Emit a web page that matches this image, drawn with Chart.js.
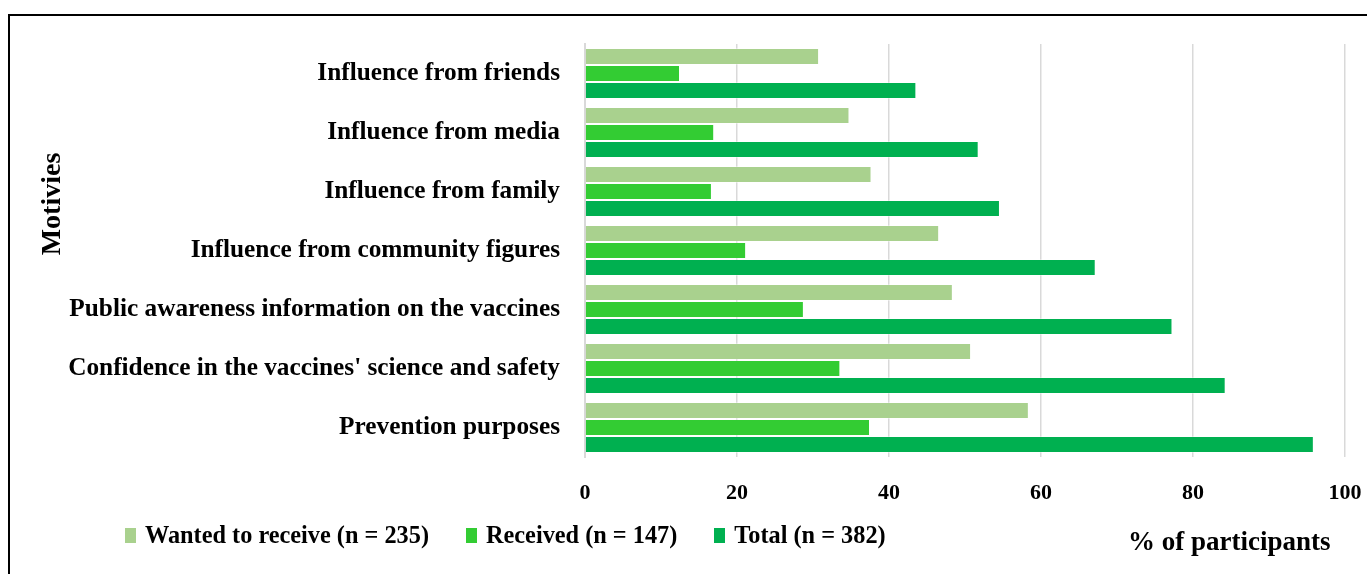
<!DOCTYPE html>
<html>
<head>
<meta charset="utf-8">
<script src="https://cdn.jsdelivr.net/npm/chart.js@4"></script>
<style>
  html, body { margin: 0; padding: 0; background: #fff; }
  #wrap { position: relative; width: 1367px; height: 574px; overflow: hidden; }
  #frame { position: absolute; left: 8px; top: 14px; right: -4px; bottom: -4px; border-top: 2px solid #000; border-left: 2px solid #000; pointer-events: none; }
  #legend { position: absolute; left: 125px; top: 521px; display: flex; font: bold 24.3px "Liberation Serif", serif; color: #000; }
  #legend .item { display: flex; align-items: center; margin-right: 37px; }
  #legend .box { width: 11px; height: 15px; margin-right: 9px; }
  #xtitle { position: absolute; left: 1128px; top: 526px; font: bold 27px "Liberation Serif", serif; color: #000; }
  #ytitle { position: absolute; left: 51px; top: 204px; transform: translate(-50%, -50%) rotate(-90deg); white-space: nowrap; font: bold 28px "Liberation Serif", serif; color: #000; }
</style>
</head>
<body>
<div id="wrap">
  <canvas id="chart" width="1367" height="574"></canvas>
  <div id="frame"></div>
  <div id="ytitle">Motivies</div>
  <div id="legend"></div>
  <div id="xtitle">% of participants</div>
</div>
<script>
const categories = [
  'Influence from friends',
  'Influence from media',
  'Influence from family',
  'Influence from community figures',
  'Public awareness information on the vaccines',
  "Confidence in the vaccines' science and safety",
  'Prevention purposes'
];
const seriesNames = ['Wanted to receive (n = 235)', 'Received (n = 147)', 'Total (n = 382)'];
const wanted = [30.8, 34.8, 37.7, 46.6, 48.4, 50.8, 58.4];
const received = [12.5, 17.0, 16.7, 21.2, 28.8, 33.6, 37.5];
const total = [43.6, 51.8, 54.6, 67.2, 77.3, 84.3, 95.9];
const colors = ['#A9D18E', '#33CC33', '#00B050'];
const xMin = 0, xMax = 100, xStep = 20;

const serif = '"Liberation Serif", "Times New Roman", serif';

const ctx = document.getElementById('chart').getContext('2d');
const chart = new Chart(ctx, {
  type: 'bar',
  data: {
    labels: categories,
    datasets: [wanted, received, total].map((d, i) => ({
      label: seriesNames[i],
      data: d,
      backgroundColor: colors[i],
      borderColor: 'rgba(255,255,255,0.35)',
      borderWidth: 1,
      barPercentage: 1,
      categoryPercentage: 0.865
    }))
  },
  options: {
    indexAxis: 'y',
    responsive: false,
    animation: false,
    layout: { padding: { top: 44, right: 22, bottom: 57, left: 30 } },
    plugins: {
      legend: { display: false },
      tooltip: { enabled: false }
    },
    scales: {
      x: {
        min: xMin,
        max: xMax,
        ticks: { stepSize: xStep, color: '#000', padding: 23, font: { family: serif, size: 22, weight: 'bold' } },
        grid: { color: '#d9d9d9', lineWidth: 1.5, drawTicks: false },
        border: { display: false },
        afterFit: s => { s.height = 60; s.paddingLeft = 0; s.paddingRight = 0; }
      },
      y: {
        ticks: { color: '#000', padding: 25, font: { family: serif, size: 25.3, weight: 'bold' } },
        grid: { display: false, drawTicks: false },
        border: { display: true, color: '#d9d9d9', width: 2 },
        afterFit: s => { s.width = 555; }
      }
    }
  }
});

const legend = document.getElementById('legend');
chart.data.datasets.forEach(ds => {
  const item = document.createElement('div');
  item.className = 'item';
  const box = document.createElement('span');
  box.className = 'box';
  box.style.background = ds.backgroundColor;
  const txt = document.createElement('span');
  txt.textContent = ds.label;
  item.appendChild(box);
  item.appendChild(txt);
  legend.appendChild(item);
});
</script>
</body>
</html>
